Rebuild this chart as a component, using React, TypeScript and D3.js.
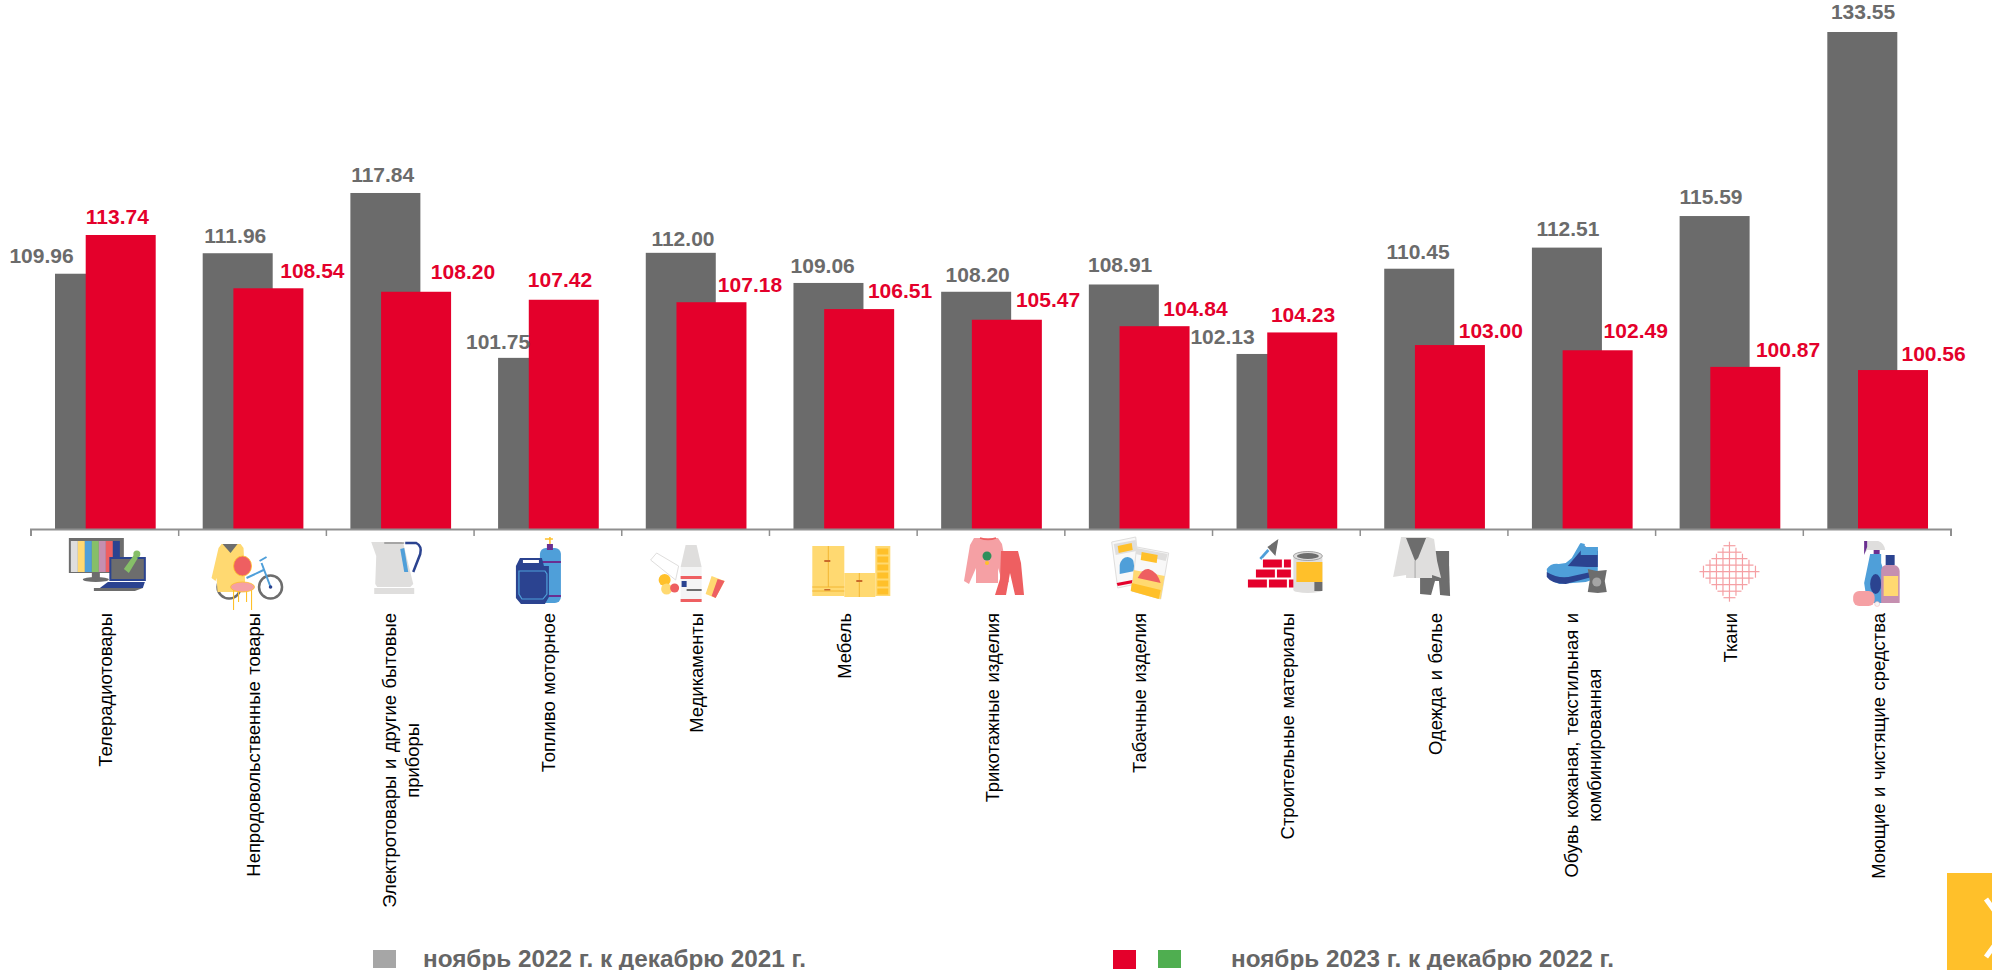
import React from "react";
import * as d3 from "d3";

const categories = [
  ["Телерадиотовары"],
  ["Непродовольственные товары"],
  ["Электротовары и другие бытовые", "приборы"],
  ["Топливо моторное"],
  ["Медикаменты"],
  ["Мебель"],
  ["Трикотажные изделия"],
  ["Табачные изделия"],
  ["Строительные материалы"],
  ["Одежда и белье"],
  ["Обувь кожаная, текстильная и", "комбинированная"],
  ["Ткани"],
  ["Моющие и чистящие средства"],
];
const values2022 = [109.96, 111.96, 117.84, 101.75, 112.0, 109.06, 108.2, 108.91, 102.13, 110.45, 112.51, 115.59, 133.55];
const values2023 = [113.74, 108.54, 108.2, 107.42, 107.18, 106.51, 105.47, 104.84, 104.23, 103.0, 102.49, 100.87, 100.56];
const legend2022 = "ноябрь 2022 г. к декабрю 2021 г.";
const legend2023 = "ноябрь 2023 г. к декабрю 2022 г.";

// label nudges, the source chart has them hand placed
const grayDx = [-48.5, -2.4, -2.7, -35, 2.2, -5.8, 1.5, -3.7, -49, -1.2, 1, -3.6, 0.7];
const grayDy = [0.6, 1, 0, 2.4, 3.9, 1.3, 1.2, -1.2, 1.3, 1.6, -0.9, -0.7, -2];
const redDx = [-3.4, 44, 46.9, -3.8, 38.5, 40.9, 41.2, 40.9, 0.8, 40.9, 38.1, 42.7, 40.6];
const redDy = [0, 1, -1.5, -2.1, 0.5, 0, -2, 0.5, 0.8, 3.6, -1.6, 0.8, 1.6];

const GRAY = "#6b6b6b";
const RED = "#e4002b";
const FONT = "'Liberation Sans', Arial, sans-serif";
const LIGHT = "#dfdedd";
const BLUE = "#4f9fd9";
const NAVY = "#2b4390";
const YEL = "#ffd971";
const AMB = "#ffc02a";
const PINK = "#f5a0a4";
const CORAL = "#ee5f61";

const W = 1992;
const H = 970;
const x0 = 31;
const x1 = 1951;
const baseY = 529.5;
const labelTop = 613;
const labelSize = 18.4;
const wordGap = 1.5;

const x = d3.scaleBand<number>().domain(d3.range(categories.length)).range([x0, x1]);
const y = d3.scaleLinear().domain([85, 133.55]).range([baseY, 32]);

const measure = document.createElement("canvas").getContext("2d")!;
measure.font = `${labelSize}px 'Liberation Sans'`;
const lineWidth = (t: string) => measure.measureText(t).width + (t.split(" ").length - 1) * wordGap;

const Icon = ({ i }: { i: number }) => {
  switch (i) {
    case 0:
      return (
        <g>
          <rect x={-36} y={2} width={55} height={35} fill="#6d6d6d" />
          {[LIGHT, YEL, BLUE, "#86bf68", "#c58fb0", CORAL, NAVY].map((c, k) => (
            <rect key={c} x={-34 + k * 7} y={5} width={7} height={31} fill={c} />
          ))}
          <rect x={-13} y={37} width={8} height={5} fill="#6d6d6d" />
          <ellipse cx={-9} cy={43.5} rx={13} ry={2.5} fill="#6d6d6d" />
          <rect x={4.5} y={21} width={36.5} height={24} fill={NAVY} />
          <rect x={6.5} y={23} width={32.5} height={20} fill="#6d6d6d" />
          <path d="M-5 52l8-6h37l-2 6z" fill={NAVY} />
          <path d="M-11 52h49l-8 3h-41z" fill="#6d6d6d" />
          <path d="M19 33l10-14 4 3-9 15z" fill="#86bf68" />
          <circle cx={32} cy={18} r={3.5} fill="#86bf68" />
        </g>
      );
    case 1:
      return (
        <g fill="none">
          <circle cx={-23.5} cy={51} r={11.5} stroke="#6d6d6d" strokeWidth={2.5} />
          <path d="M-41 42l7-30 3-4h19l3 4 2 44h-28l-1-14-1 3z" fill={YEL} />
          <path d="M-30 8h15l-7 9z" fill="#6d6d6d" />
          <circle cx={18} cy={51} r={11.5} stroke="#6d6d6d" strokeWidth={2.5} />
          <path d="M18 51L9 27M11 34L-6 42M7 25l7-4" stroke={BLUE} strokeWidth={2} />
          <circle cx={18} cy={51} r={1.8} fill={NAVY} />
          <path d="M-19 48v26M-14 48v18M-6 48v18M-1 48v26" stroke={AMB} strokeWidth={1.1} />
          <ellipse cx={-10} cy={30} rx={9} ry={10} fill={CORAL} stroke={AMB} strokeWidth={0.8} />
          <ellipse cx={-10} cy={51} rx={12} ry={5} fill={PINK} stroke={AMB} strokeWidth={0.8} />
        </g>
      );
    case 2:
      return (
        <g>
          <path d="M5 7h11q6 3 4 11l-7 18" fill="none" stroke={NAVY} strokeWidth={2.5} />
          <path d="M-29 6h30l2 1 10 41-3 3h-33l-2-3 1-28z" fill={LIGHT} />
          <path d="M-16 7h20" stroke="#6d6d6d" strokeWidth={1} />
          <rect x={-26} y={52} width={40} height={6} fill={LIGHT} />
          <path d="M0 13l4-1 4 24h-4z" fill={BLUE} />
        </g>
      );
    case 3:
      return (
        <g>
          <rect x={-8} y={12} width={21} height={55} rx={6} fill={BLUE} />
          <rect x={-1} y={8} width={6} height={6} fill="#6a2f91" />
          <path d="M-3 3h8M2 1v7" stroke={AMB} strokeWidth={1.5} />
          <rect x={-8} y={25} width={21} height={2} fill="#6a2f91" />
          <rect x={-8} y={59} width={21} height={2} fill="#6a2f91" />
          <path d="M-32 30l4-8h22l2 8h5v31l-4 7h-24l-5-6z" fill={NAVY} />
          <path d="M-29 35h26l2 3v20l-4 5h-21l-3-5z" fill="none" stroke={BLUE} strokeWidth={1.2} />
          <rect x={-25} y={24} width={16} height={3} fill="#fff" />
        </g>
      );
    case 4:
      return (
        <g>
          <path d="M-45 24l6-7 22 13-3 14z" fill="#fff" stroke={LIGHT} />
          <rect x={-15} y={31} width={21} height={35} fill="#f4f4f4" />
          <path d="M-10 9h11l5 22h-21z" fill={LIGHT} />
          <rect x={-15} y={40} width={21} height={3} fill={CORAL} />
          <rect x={-15} y={63} width={21} height={3} fill={CORAL} />
          <rect x={-14} y={45} width={5} height={6} fill={NAVY} />
          <rect x={-9} y={53} width={15} height={2} fill="#6d6d6d" />
          <circle cx={-31} cy={44} r={6} fill={AMB} />
          <circle cx={-29} cy={53} r={5.5} fill={YEL} />
          <circle cx={-21} cy={52} r={4.5} fill={CORAL} />
          <path d="M16 40l13 5-9 17-10-4z" fill={YEL} />
          <path d="M22 43l7 2-9 17-4-2z" fill={CORAL} />
        </g>
      );
    case 5:
      return (
        <g>
          <rect x={-31} y={10} width={32} height={50} fill={YEL} />
          <rect x={1} y={37} width={31} height={24} fill={YEL} />
          <rect x={32} y={10} width={15} height={50} fill={YEL} />
          {d3.range(6).map((k) => (
            <rect key={k} x={34} y={12.5 + k * 8} width={11} height={6} fill={AMB} />
          ))}
          <path d="M-15 10v41M-31 51H1M-31 55H1M16 37v24" stroke="#f2b632" strokeWidth={1} fill="none" />
          <rect x={-19} y={24} width={6} height={2} fill="#c96a2a" />
          <rect x={13} y={44} width={6} height={2} fill="#c96a2a" />
          <rect x={-19} y={53} width={6} height={1.5} fill="#c96a2a" />
        </g>
      );
    case 6:
      return (
        <g>
          <path d="M-17 2h24l4 6 7 38-6 2-5-16v15H-15V32l-7 16-5-3 6-36z" fill={PINK} />
          <path d="M-11 2q8 3 16 0" stroke={CORAL} strokeWidth={1.5} fill="none" />
          <path d="M10 15h17l3 12 3 32h-9l-5-22-4 22H4l5-16z" fill={CORAL} />
          <circle cx={-4} cy={20} r={4.5} fill="#2f8f5b" />
          <circle cx={-4} cy={27} r={2} fill={AMB} />
        </g>
      );
    case 7:
      return (
        <g>
          <path d="M-27 6l24-5 5 46-23 5z" fill="#f8f8f8" stroke={LIGHT} />
          <path d="M-25 8l22-4 1 11-21 4z" fill={LIGHT} />
          <path d="M-21 10l14-3 1 7-14 3z" fill={AMB} />
          <path d="M-19 29q2-8 8-8 6 1 6 6l1 8-15 3z" fill={BLUE} />
          <path d="M-22 47l21-4 1 3-21 4z" fill={RED} />
          <path d="M-2 11l32 6-8 46-29-8z" fill="#f8f8f8" stroke={LIGHT} />
          <path d="M-2 12l31 6-2 7-30-7z" fill={LIGHT} />
          <path d="M3 16l16 3-1 8-16-3z" fill={AMB} />
          <path d="M-5 34l31 6-4 23-29-8z" fill={YEL} />
          <path d="M-7 47l29 7-2 9-28-8z" fill={AMB} />
          <path d="M-1 42q5-10 11-9 8 2 12 14z" fill={CORAL} />
        </g>
      );
    case 8:
      return (
        <g>
          <path d="M-27 22l8-9 2 2-8 9z" fill={BLUE} />
          <path d="M-19 11l11-8-3 17z" fill="#6d6d6d" />
          <rect x={-39} y={43} width={20} height={9} fill={RED} stroke="#fff" />
          <rect x={-18} y={43} width={19} height={9} fill={RED} stroke="#fff" />
          <rect x={2} y={43} width={6} height={9} fill={RED} stroke="#fff" />
          <rect x={-31} y={33} width={20} height={9} fill={RED} stroke="#fff" />
          <rect x={-10} y={33} width={15} height={9} fill={RED} stroke="#fff" />
          <rect x={-24} y={23} width={20} height={9} fill={RED} stroke="#fff" />
          <rect x={-3} y={23} width={8} height={9} fill={RED} stroke="#fff" />
          <rect x={7} y={19} width={29} height={35} fill={LIGHT} />
          <ellipse cx={21.5} cy={54} rx={14.5} ry={3} fill={LIGHT} />
          <rect x={10} y={26} width={26} height={20} fill={AMB} />
          <rect x={28} y={46} width={8} height={9} fill="#6d6d6d" />
          <ellipse cx={21.5} cy={20} rx={14.5} ry={4.5} fill={LIGHT} stroke="#a5a5a5" />
          <ellipse cx={21.5} cy={20} rx={11} ry={3} fill="#6d6d6d" />
        </g>
      );
    case 9:
      return (
        <g>
          <path d="M-14 30H15l1 30-10-1-2-25-7 25-11-1z" fill="#6d6d6d" />
          <rect x={1} y={15} width={14} height={30} fill="#6d6d6d" />
          <path d="M-33 1h27l6 2 3 22 4 17-9-3v3h-26v-3l-13 2z" fill={LIGHT} />
          <path d="M-28 2h20l-8 20-3 3z" fill="#6d6d6d" />
          <path d="M-19 25v17" stroke="#a5a5a5" strokeWidth={1} />
        </g>
      );
    case 10:
      return (
        <g>
          <path d="M-35 33q4-6 12-5l7-1 6-5 8-14 1-1 3 4h14v31l-12 4-26 2q-13-3-13-15z" fill={BLUE} />
          <path d="M-14 30l17-20 5 4 8 1v16H5z" fill={NAVY} />
          <path d="M-1 7l4 1v3h13v8H-1z" fill={BLUE} />
          <path d="M-35 36q13 8 26 4l18-4 1 5-26 7q-14 0-19-7z" fill={NAVY} />
          <path d="M6 33l9 2 10-1-2 11 2 11-9 1-10-1 2-12z" fill="#6d6d6d" />
          <circle cx={15} cy={46} r={4.5} fill="#a5a5a5" />
        </g>
      );
    case 11:
      return (
        <g stroke={PINK} strokeWidth={1.2} fill="none">
          {d3.range(-4, 5).map((k) => (
            <g key={k}>
              <line x1={k * 6.5} x2={k * 6.5} y1={35.7 - (30 - Math.abs(k) * 6)} y2={35.7 + (30 - Math.abs(k) * 6)} />
              <line y1={35.7 + k * 6.5} y2={35.7 + k * 6.5} x1={-(30 - Math.abs(k) * 6)} x2={30 - Math.abs(k) * 6} />
            </g>
          ))}
        </g>
      );
    default:
      return (
        <g>
          <path d="M-13 5h14q6 2 7 9h-18l-2 3z" fill={LIGHT} />
          <path d="M-13 5h3v6l-3 8z" fill="#6a2f91" />
          <rect x={-3.5} y={14} width={6} height={4} fill="#6a2f91" />
          <path d="M-7 18h11v9l2 6v34h-16l-3-20z" fill={BLUE} />
          <ellipse cx={-1.5} cy={48} rx={5.5} ry={10} fill={NAVY} />
          <rect x={8.5} y={19} width={9} height={10} fill={NAVY} />
          <path d="M4 34q1-5 6-5h7q5 1 5.500 6v32H4z" fill="#c58fb0" />
          <rect x={6.5} y={40} width={14.500} height={20} fill={YEL} />
          <rect x={-24} y={55} width={21.500} height={15} rx={6} fill={PINK} />
          <circle cx={0} cy={68} r={2.500} fill="#f4f4f4" stroke={PINK} strokeWidth={0.4} />
        </g>
      );
  }
};

export default function App() {
  const bw = 70;
  const grayOff = 24;
  const redOff = 54.7;

  return (
    <svg
      width={W}
      height={H}
      viewBox={`0 0 ${W} ${H}`}
      style={{ position: "absolute", left: 0, top: 0, background: "#fff" }}
      fontFamily={FONT}
    >
      {categories.map((_, i) => (
        <rect
          key={`g${i}`}
          x={x(i)! + grayOff}
          y={y(values2022[i])}
          width={bw}
          height={baseY - y(values2022[i])}
          fill={GRAY}
        />
      ))}
      {categories.map((_, i) => (
        <rect
          key={`r${i}`}
          x={x(i)! + redOff}
          y={y(values2023[i])}
          width={bw}
          height={baseY - y(values2023[i])}
          fill={RED}
        />
      ))}

      {/* axis */}
      <path d={`M${x0} 536V${baseY}H${x1}V536`} fill="none" stroke="#8f8f8f" strokeWidth={2} />
      {categories.map((_, i) =>
        i === 0 ? null : (
          <line key={i} x1={x(i)} x2={x(i)} y1={baseY} y2={536} stroke="#8f8f8f" strokeWidth={1.5} />
        )
      )}

      {/* value labels */}
      {values2022.map((v, i) => (
        <text
          key={`gl${i}`}
          x={x(i)! + grayOff + bw / 2 + grayDx[i]}
          y={y(v) - 11 + grayDy[i]}
          textAnchor="middle"
          fontSize={21}
          fontWeight="bold"
          fill={GRAY}
        >
          {v.toFixed(2)}
        </text>
      ))}
      {values2023.map((v, i) => (
        <text
          key={`rl${i}`}
          x={x(i)! + redOff + bw / 2 + redDx[i]}
          y={y(v) - 11 + redDy[i]}
          textAnchor="middle"
          fontSize={21}
          fontWeight="bold"
          fill={RED}
        >
          {v.toFixed(2)}
        </text>
      ))}

      {/* icons */}
      {categories.map((_, i) => (
        <g key={`ic${i}`} transform={`translate(${x(i)! + x.bandwidth() / 2},536)`}>
          <Icon i={i} />
        </g>
      ))}

      {/* category names, lines are centred on the longest one and the block hangs from labelTop */}
      {categories.map((lines, i) => {
        const block = d3.max(lines, lineWidth)!;
        return (
          <g
            key={`c${i}`}
            transform={`translate(${x(i)! + x.bandwidth() / 2 + 7.5},${labelTop + block / 2}) rotate(-90)`}
            fontSize={labelSize}
            wordSpacing={wordGap}
            fill="#000"
            textAnchor="middle"
          >
            {lines.map((t, k) => (
              <text key={k} x={0} y={(k - (lines.length - 1) / 2) * 23}>
                {t}
              </text>
            ))}
          </g>
        );
      })}

      {/* legend, the descenders run off the page as in the source */}
      <rect x={373} y={950} width={23} height={18} fill="#a6a6a6" />
      <text x={423} y={966.7} fontSize={24.3} fontWeight="bold" fill="#666">
        {legend2022}
      </text>
      <rect x={1113} y={950} width={23} height={19} fill={RED} />
      <rect x={1158} y={950} width={23} height={18} fill="#4fae50" />
      <text x={1231} y={966.7} fontSize={24.3} fontWeight="bold" fill="#666">
        {legend2023}
      </text>

      {/* next page tab */}
      <rect x={1947} y={873} width={45} height={97} fill={AMB} />
      <path d="M1986 899l21 29-21 29" fill="none" stroke="#fff" strokeWidth={5} />
    </svg>
  );
}
